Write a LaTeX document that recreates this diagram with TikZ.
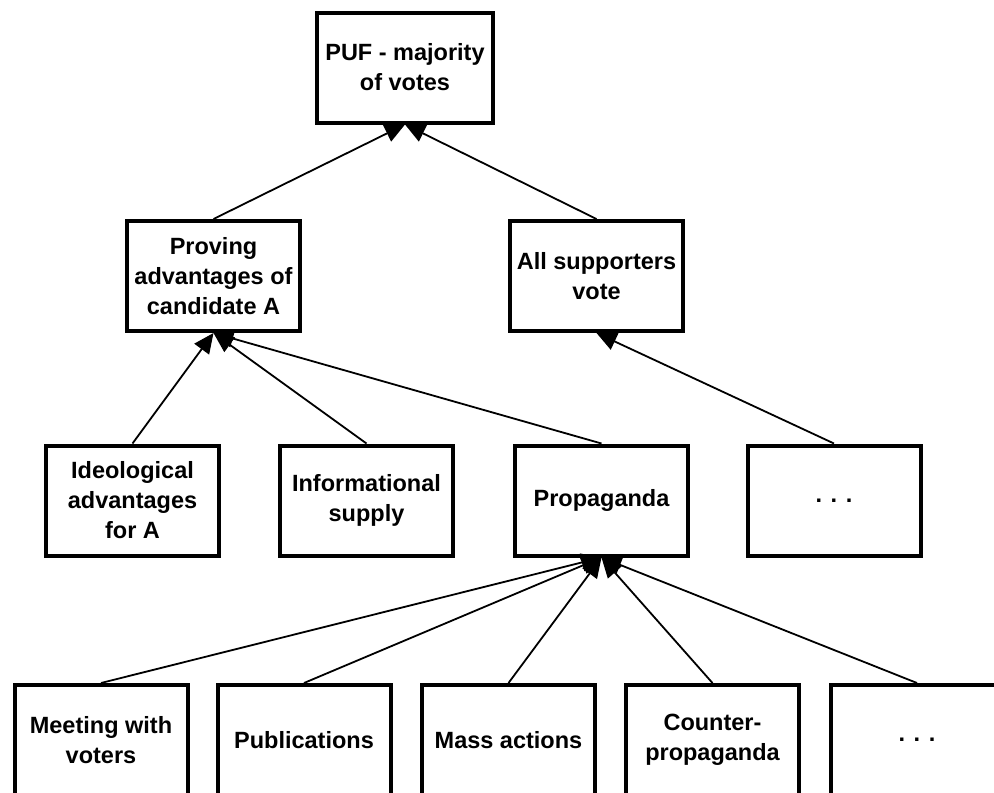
\documentclass[tikz,border=0pt]{standalone}
\usepackage{fontspec}
\setmainfont{Liberation Sans}
\usetikzlibrary{arrows.meta}
\begin{document}
\begin{tikzpicture}[x=1pt, y=-1pt,
		box/.style = {draw, line width=4pt, minimum width=173pt,
				minimum height=110pt, inner sep=0pt, align=center,
				font=\fontsize{23.5}{30}\selectfont\bfseries},
		link/.style = {-{Triangle[length=20pt, width=18pt]},
				line width=1.8pt},
	]
	\useasboundingbox (0,0) rectangle (994,793);
	\clip (0,0) rectangle (994,793);

	% goal
	\node[box, minimum width=176pt] (puf) at (405,67.5) {PUF - majority\\of votes};

	% subgoals
	\node[box] (prove) at (213.5,276) {Proving\\advantages of\\candidate A};
	\node[box] (vote) at (596.5,276) {All supporters\\vote};

	% means
	\node[box] (ideo) at (132.5,500.5) {Ideological\\advantages\\for A};
	\node[box] (info) at (366.5,500.5) {Informational\\supply};
	\node[box] (prop) at (601.5,500.5) {Propaganda};
	\node[box] (more) at (834,500.5) {. . .};

	% actions
	\node[box] (meet) at (101,740) {Meeting with\\voters};
	\node[box] (publ) at (304,740) {Publications};
	\node[box] (mass) at (508.5,740) {Mass actions};
	\node[box] (counter) at (712.5,740) {Counter-\\propaganda};
	\node[box] (etc) at (917,740) {. . .};

	\foreach \c in {prove,vote} {
			\draw[link] (\c.north) -- (puf.south);
		}
	\foreach \c in {ideo,info,prop} {
			\draw[link] (\c.north) -- (prove.south);
		}
	\draw[link] (more.north) -- (vote.south);
	\foreach \c in {meet,publ,mass,counter,etc} {
			\draw[link] (\c.north) -- (prop.south);
		}
\end{tikzpicture}
\end{document}
